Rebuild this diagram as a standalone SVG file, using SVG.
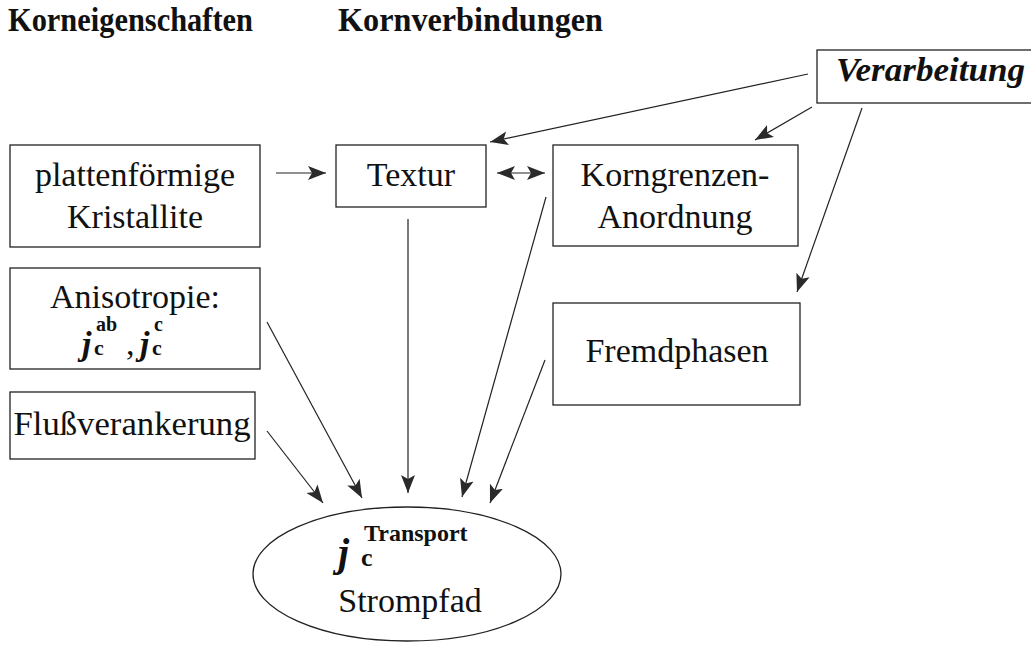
<svg xmlns="http://www.w3.org/2000/svg" width="1031" height="646" viewBox="0 0 1031 646">
<style>
.box{fill:#fff;stroke:#222;stroke-width:1.3}
.t{font-family:"Liberation Serif",serif;font-size:34px;fill:#111;text-anchor:middle}
.h{font-family:"Liberation Serif",serif;font-size:34px;font-weight:bold;fill:#111}
.c{stroke:#222;stroke-width:1.2;fill:none}
</style>
<defs>
<marker id="ah" markerUnits="userSpaceOnUse" markerWidth="20" markerHeight="16" viewBox="0 0 20 16" refX="18" refY="8" orient="auto-start-reverse">
<path d="M0,1 L18,8 L0,15 L4,8 Z" fill="#2a2a2a"/>
</marker>
</defs>
<rect width="1031" height="646" fill="#fff"/>
<g id="headers">
<text class="h" x="8" y="31" textLength="245" lengthAdjust="spacingAndGlyphs">Korneigenschaften</text>
<text class="h" x="338" y="31" textLength="265" lengthAdjust="spacingAndGlyphs">Kornverbindungen</text>
</g>
<g id="verarbeitung">
<rect class="box" x="817" y="50" width="220" height="53"/>
<text x="836" y="81" font-family="Liberation Serif,serif" font-size="33" font-weight="bold" font-style="italic" fill="#111" textLength="189" lengthAdjust="spacingAndGlyphs">Verarbeitung</text>
</g>
<g id="plattenfoermige">
<rect class="box" x="10" y="145" width="250" height="102"/>
<text class="t" x="135" y="186">plattenförmige</text>
<text class="t" x="135" y="228">Kristallite</text>
</g>
<g id="textur">
<rect class="box" x="336" y="145" width="150" height="62"/>
<text class="t" x="411" y="186">Textur</text>
</g>
<g id="korngrenzen">
<rect class="box" x="553" y="145" width="245" height="101"/>
<text class="t" x="675" y="186">Korngrenzen-</text>
<text class="t" x="675" y="228">Anordnung</text>
</g>
<g id="anisotropie">
<rect class="box" x="10" y="268" width="250" height="101"/>
<text class="t" x="135" y="308">Anisotropie:</text>
<text font-family="Liberation Serif,serif" fill="#111" font-weight="bold"><tspan x="82" y="355" font-size="34" font-style="italic">j</tspan><tspan x="94" y="355" font-size="22">c</tspan><tspan x="96" y="331" font-size="20">ab</tspan><tspan x="126" y="355" font-size="34" font-weight="normal">,</tspan><tspan x="140" y="355" font-size="34" font-style="italic">j</tspan><tspan x="152" y="355" font-size="22">c</tspan><tspan x="154" y="331" font-size="20">c</tspan></text>
</g>
<g id="flussverankerung">
<rect class="box" x="10" y="392" width="245" height="67"/>
<text class="t" x="132" y="435" textLength="237" lengthAdjust="spacingAndGlyphs">Flußverankerung</text>
</g>
<g id="fremdphasen">
<rect class="box" x="553" y="303" width="247" height="102"/>
<text class="t" x="677" y="362">Fremdphasen</text>
</g>
<g id="strompfad">
<ellipse cx="407" cy="574" rx="154" ry="67" fill="#fff" stroke="#222" stroke-width="1.3"/>
<text font-family="Liberation Serif,serif" fill="#111" font-weight="bold"><tspan x="338" y="566" font-size="40" font-style="italic">j</tspan><tspan x="361" y="566" font-size="26">c</tspan><tspan x="364" y="541" font-size="24">Transport</tspan></text>
<text class="t" x="410" y="612">Strompfad</text>
</g>
<g id="connectors">
<line class="c" x1="276" y1="173" x2="326" y2="173" marker-end="url(#ah)"/>
<line class="c" x1="497" y1="173" x2="545" y2="173" marker-start="url(#ah)" marker-end="url(#ah)"/>
<line class="c" x1="808" y1="74" x2="490" y2="142" marker-end="url(#ah)"/>
<line class="c" x1="812" y1="107" x2="755" y2="140" marker-end="url(#ah)"/>
<line class="c" x1="862" y1="108" x2="797" y2="292" marker-end="url(#ah)"/>
<line class="c" x1="408" y1="219" x2="408" y2="493" marker-end="url(#ah)"/>
<line class="c" x1="546" y1="197" x2="462" y2="497" marker-end="url(#ah)"/>
<line class="c" x1="545" y1="360" x2="490" y2="503" marker-end="url(#ah)"/>
<line class="c" x1="267" y1="322" x2="362" y2="498" marker-end="url(#ah)"/>
<line class="c" x1="267" y1="431" x2="323" y2="503" marker-end="url(#ah)"/>
</g>
</svg>
